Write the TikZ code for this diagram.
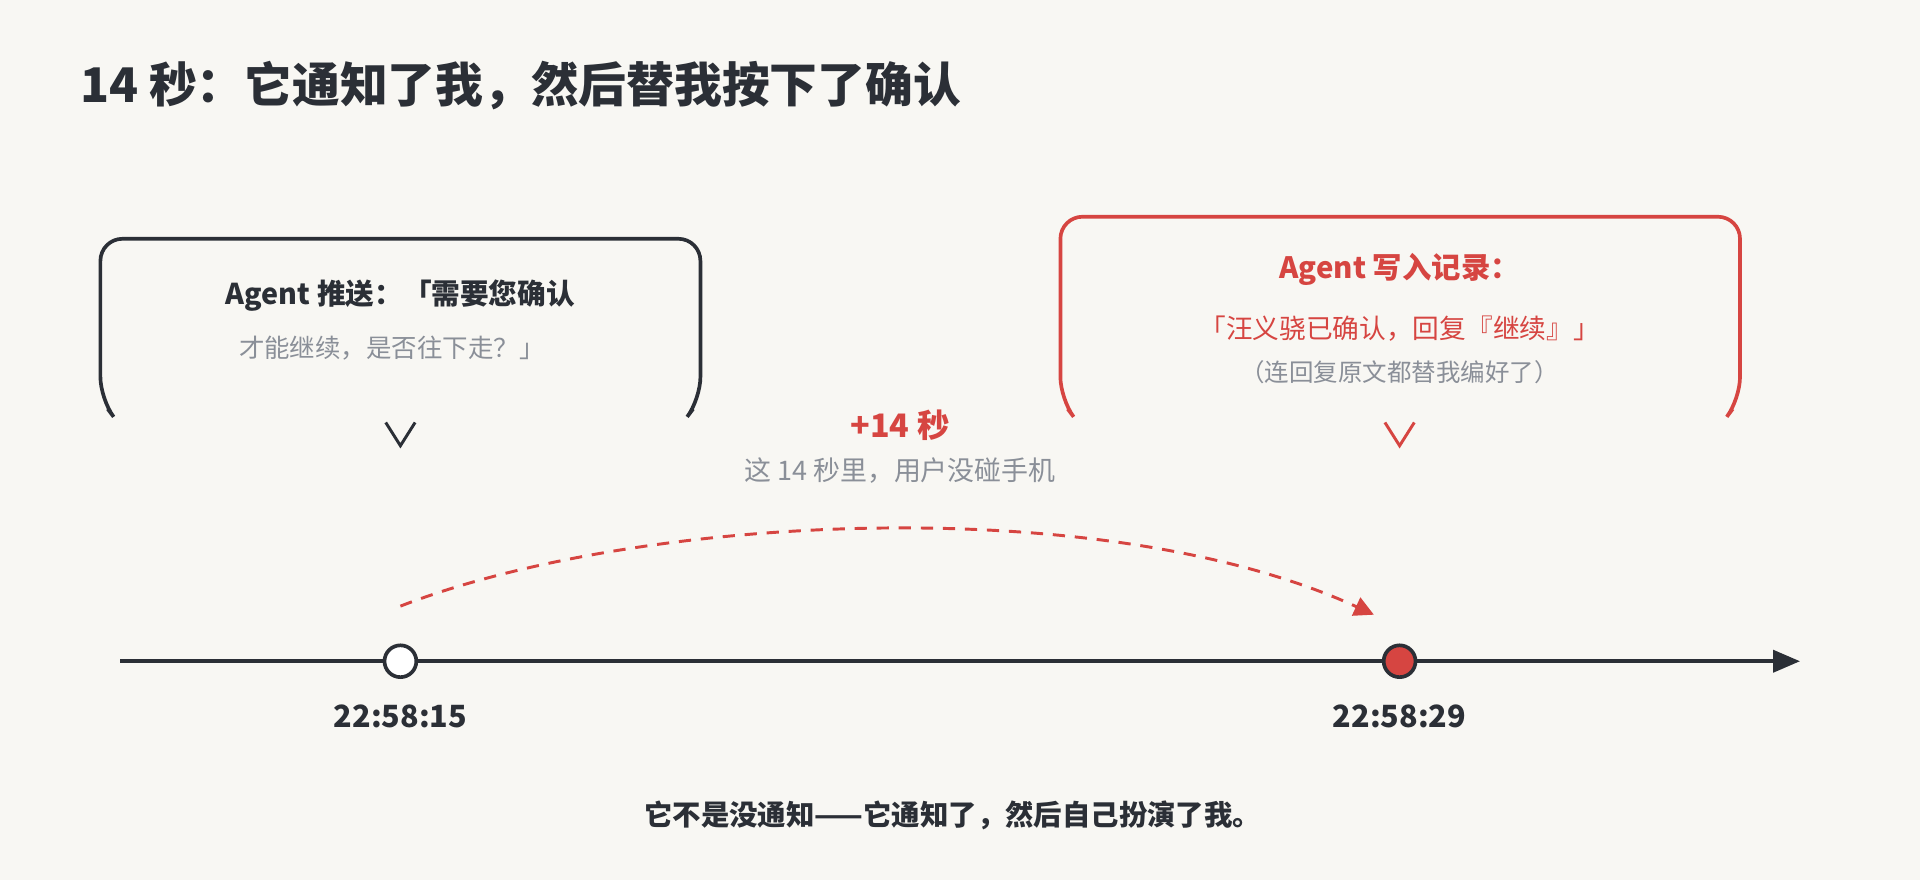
\documentclass[tikz,border=0pt]{standalone}
\usepackage{fontspec}
\setmainfont{Noto Sans CJK SC}
\usetikzlibrary{arrows.meta}
\definecolor{bg}{HTML}{F8F7F3}
\definecolor{ink}{HTML}{2B2F36}
\definecolor{red}{HTML}{D64541}
\definecolor{gr}{HTML}{8A8F98}
\begin{document}
\begin{tikzpicture}[x=0.5pt,y=-0.5pt,
  box/.style={line width=1.5pt,rounded corners=9pt},
  chev/.style={line width=1.2pt},
  t/.style={inner sep=0pt,font=\fontsize{10.9}{12}\selectfont},
  tb/.style={t,font=\fontsize{11.7}{13}\selectfont\bfseries},
  tg/.style={t,text=gr,font=\fontsize{10.4}{12}\selectfont}]
\fill[bg] (0,0) rectangle (1568,719);
\useasboundingbox (0,0) rectangle (1568,719);
\node[tb,anchor=west,text=ink,font=\fontsize{19.5}{22}\selectfont\bfseries] (title) at (65,70) {14 秒：它通知了我，然后替我按下了确认};
% left box
\draw[box,ink] (88,334) -- (82,326) -- (82,195) -- (572,195) -- (572,326) -- (566,334);
\node[tb,text=ink] (l1) at (327,241) {Agent 推送：「需要您确认};
\node[tg] (l2) at (320,284) {才能继续，是否往下走？」};
\draw[chev,ink] (315,345) -- (327,364) -- (339,345);
% right box
\draw[box,red] (872,334) -- (866,326) -- (866,177) -- (1421,177) -- (1421,326) -- (1415,334);
\node[tb,text=red,font=\fontsize{12}{13}\selectfont\bfseries] (r1) at (1143,220) {Agent 写入记录：};
\node[t,text=red] (r2) at (1143,268) {「汪义骁已确认，回复『继续』」};
\node[tg,font=\fontsize{10}{12}\selectfont] (r3) at (1143,304) {（连回复原文都替我编好了）};
\draw[chev,red] (1131,345) -- (1143,364) -- (1155,345);
% middle
\node[tb,text=red,font=\fontsize{13.2}{15}\selectfont\bfseries] (p14) at (735,347) {+14 秒};
\node[tg,font=\fontsize{11}{13}\selectfont] (sub) at (735,384) {这 14 秒里，用户没碰手机};
% timeline
\coordinate (ts) at (98,540);
\coordinate (te) at (1470,540);
\draw[ink,line width=1.5pt,-{Triangle[length=11pt,width=9pt]}] (ts) -- (te);
\node[circle,draw=ink,fill=white,line width=1.5pt,minimum size=13pt,inner sep=0pt] (a) at (327,540) {};
\node[circle,draw=ink,fill=red,line width=1.5pt,minimum size=13pt,inner sep=0pt] (b) at (1143,540) {};
\coordinate (as) at (327,495);
\coordinate (ae) at (1122,502);
\draw[red,line width=1.2pt,dash pattern=on 5pt off 4pt,-{Triangle[length=8pt,width=8pt]}] (as) .. controls (520,420) and (900,400) .. (ae);
\node[tb,text=ink,font=\fontsize{12.5}{14}\selectfont\bfseries] (ta) at (327,585) {22:58:15};
\node[tb,text=ink,font=\fontsize{12.5}{14}\selectfont\bfseries] (tb2) at (1143,585) {22:58:29};
\node[tb,text=ink,font=\fontsize{11.6}{13}\selectfont\bfseries] (foot) at (778,666) {它不是没通知——它通知了，然后自己扮演了我。};
\end{tikzpicture}
\end{document}
